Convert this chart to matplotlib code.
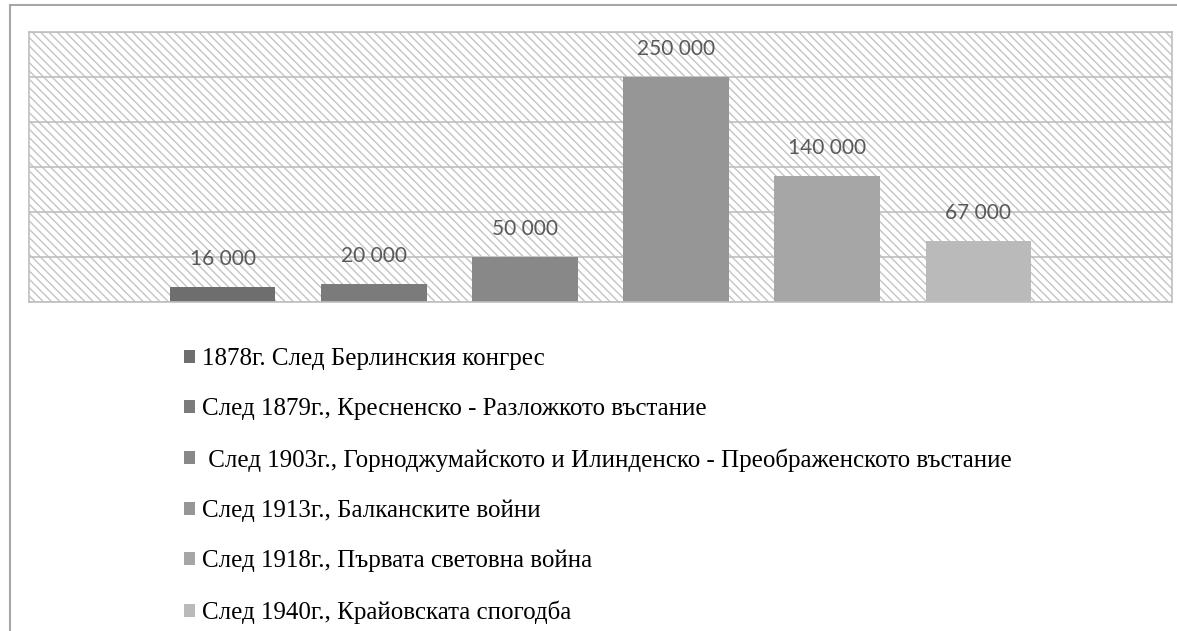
import matplotlib.pyplot as plt
from matplotlib.patches import Rectangle
from matplotlib.lines import Line2D

labels = [
    '1878г. След Берлинския конгрес',
    'След 1879г., Кресненско - Разложкото въстание',
    ' След 1903г., Горноджумайското и Илинденско - Преображенското въстание',
    'След 1913г., Балканските войни',
    'След 1918г., Първата световна война',
    'След 1940г., Крайовската спогодба',
]
values = [16000, 20000, 50000, 250000, 140000, 67000]
colors = ['#6e6e6e', '#7b7b7b', '#888888', '#969696', '#a6a6a6', '#bababa']

fig = plt.figure(figsize=(11.77, 6.31), dpi=100)
ax = fig.add_axes([29 / 1177, 1 - 301.7 / 631, 1143 / 1177, 269.7 / 631])

# hatched plot background
bg = Rectangle((0, 0), 1, 1, transform=ax.transAxes, facecolor='white',
               edgecolor='#c4c4c4', hatch='\\\\\\\\', linewidth=0, zorder=0.1)
ax.add_patch(bg)

for i, (lab, v, c) in enumerate(zip(labels, values, colors)):
    bars = ax.bar(i, v, width=0.7, color=c, label=lab, zorder=2)
    ax.bar_label(bars, fmt=lambda x: f'{x:,.0f}'.replace(',', ' '),
                 padding=13, color='#595959', fontsize=15, family='Lato')

ax.set_xlim(-1.28, 6.28)
ax.set_ylim(0, 300000)
ax.set_yticks(range(0, 300001, 50000))
ax.set_xticks([])
ax.tick_params(left=False, labelleft=False)
ax.grid(axis='y', color='#bfbfbf', linewidth=1.2)
ax.set_axisbelow(True)
for s in ax.spines.values():
    s.set_color('#bfbfbf')
    s.set_linewidth(1.2)

leg = fig.legend(loc='upper left', bbox_to_anchor=(184 / 1177, 1 - 348 / 631),
                 frameon=False, prop={'family': 'Liberation Serif', 'size': 18},
                 handlelength=0.42, handleheight=0.42, handletextpad=0.32,
                 labelspacing=1.12, borderpad=0, borderaxespad=0)

# outer chart frame
fig.add_artist(Line2D([10 / 1177, 1], [1 - 5 / 631, 1 - 5 / 631], transform=fig.transFigure,
                      color='#a6a6a6', linewidth=1.5))
fig.add_artist(Line2D([10 / 1177, 10 / 1177], [0, 1 - 5 / 631], transform=fig.transFigure,
                      color='#a6a6a6', linewidth=1.5))

fig.savefig('out.png', dpi=100)
